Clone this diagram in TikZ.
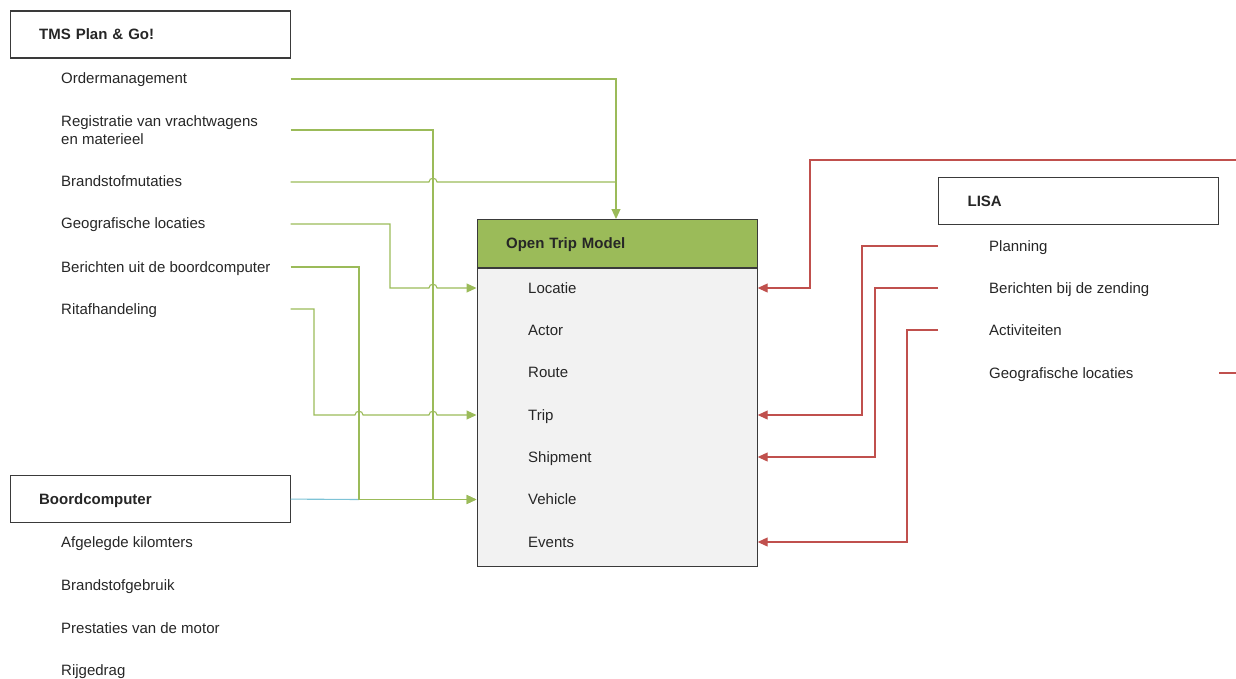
\documentclass[tikz,border=0pt]{standalone}
\usepackage{fontspec}
\setmainfont{Liberation Sans}
\usetikzlibrary{arrows.meta}
\definecolor{boxc}{HTML}{3A3A3A}
\definecolor{txtc}{HTML}{262626}
\definecolor{gline}{HTML}{9BBB59}
\definecolor{rline}{HTML}{C0504D}
\definecolor{bline}{HTML}{7EC3D6}
\definecolor{hgreen}{HTML}{9BBB59}
\definecolor{bodyg}{HTML}{F2F2F2}
\tikzset{
  hdr/.style={draw=boxc, line width=1.2pt, fill=white, minimum width=280pt, minimum height=47pt,
    anchor=north west, inner xsep=28pt, inner ysep=0pt, text width=222pt, align=left,
    font=\fontsize{15}{18}\selectfont\bfseries, text=txtc, text height=12pt, text depth=2pt},
  item/.style={anchor=west, inner sep=0pt, text height=12pt, text depth=2pt,
    font=\fontsize{15}{18}\selectfont, text=txtc},
  gcon/.style={draw=gline, line width=1.1pt},
  garr/.style={gcon, -{Triangle[length=10pt,width=9pt]}},
  rcon/.style={draw=rline, line width=1.1pt},
  rarr/.style={rcon, -{Triangle[length=10pt,width=9pt]}},
  hop/.style 2 args={insert path={-- ({#1-4},#2) .. controls ({#1-4},{#2-5}) and ({#1+4},{#2-5}) .. ({#1+4},#2)}},
}
\begin{document}
\begin{tikzpicture}[x=1pt,y=-1pt]
\useasboundingbox (0,0) rectangle (1236,679);

% column coordinates
\coordinate (xa) at (314,0);
\coordinate (xb) at (359,0);
\coordinate (xc) at (390,0);
\coordinate (xd) at (433,0);
\coordinate (xe) at (616,0);
\coordinate (rx1) at (810,0);
\coordinate (rx2) at (862,0);
\coordinate (rx3) at (875,0);
\coordinate (rx4) at (907,0);

% TMS
\node[hdr] (tms) at (9.5,10.5) {TMS Plan \& Go!};
\node[item] (om) at (61,79) {Ordermanagement};
\node[anchor=west, inner sep=0pt, align=left, font=\fontsize{15}{17.3}\selectfont, text=txtc] (reg) at (61,130) {Registratie van vrachtwagens\\en materieel};
\node[item] (bm) at (61,182) {Brandstofmutaties};
\node[item] (geo) at (61,224) {Geografische locaties};
\node[item] (ber) at (61,267) {Berichten uit de boordcomputer};
\node[item] (rit) at (61,309) {Ritafhandeling};

% Boordcomputer
\node[hdr] (boord) at (9.5,475) {Boordcomputer};
\node[item] (afg) at (61,542) {Afgelegde kilomters};
\node[item] (bsg) at (61,585) {Brandstofgebruik};
\node[item] (pre) at (61,628) {Prestaties van de motor};
\node[item] (rij) at (61,670) {Rijgedrag};

% OTM
\node[hdr, fill=hgreen, minimum height=48pt] (otmhead) at (476.5,219) {Open Trip Model};
\node[draw=boxc, line width=1.2pt, fill=bodyg, minimum width=280pt, minimum height=298pt, anchor=north west, inner sep=0pt] (otmbody) at (otmhead.south west) {};
\node[item] (loc) at (528,288) {Locatie};
\node[item] (act) at (528,330) {Actor};
\node[item] (rou) at (528,372) {Route};
\node[item] (trip) at (528,415) {Trip};
\node[item] (shp) at (528,457) {Shipment};
\node[item] (veh) at (528,499.5) {Vehicle};
\node[item] (evt) at (528,542) {Events};

% LISA
\node[hdr] (lisa) at (938,177) {LISA};
\node[item] (lplan) at (989,246) {Planning};
\node[item] (lber) at (989,288) {Berichten bij de zending};
\node[item] (lact) at (989,330) {Activiteiten};
\node[item] (lgeo) at (989,373) {Geografische locaties};

% blue connector
\draw[draw=bline, line width=1.1pt] (boord.east) -- (xb |- veh.west);

% green connectors
\draw[garr] (tms.east |- om.west) -| (xe |- otmhead.north);
\draw[garr] (tms.east |- reg.east) -| (xd |- veh.west) -- (otmbody.west |- veh.west);
\draw[gcon] (tms.east |- bm.west) [hop={433}{182}] -- (xe |- bm.west);
\draw[garr] (tms.east |- geo.west) -| (xc |- loc.west) [hop={433}{288}] -- (otmbody.west |- loc.west);
\draw[garr] (tms.east |- ber.west) -| (xb |- veh.west) -- (otmbody.west |- veh.west);
\draw[garr] (tms.east |- rit.west) -| (xa |- trip.west) [hop={359}{415}] [hop={433}{415}] -- (otmbody.west |- trip.west);

% red connectors
\draw[rarr] (lisa.east |- lgeo.west) -- ++(18,0) |- (rx1 |- 0,160) |- (otmbody.east |- loc.west);
\draw[rarr] (lisa.west |- lplan.west) -| (rx2 |- trip.west) -- (otmbody.east |- trip.west);
\draw[rarr] (lisa.west |- lber.west) -| (rx3 |- shp.west) -- (otmbody.east |- shp.west);
\draw[rarr] (lisa.west |- lact.west) -| (rx4 |- evt.west) -- (otmbody.east |- evt.west);
\end{tikzpicture}
\end{document}
